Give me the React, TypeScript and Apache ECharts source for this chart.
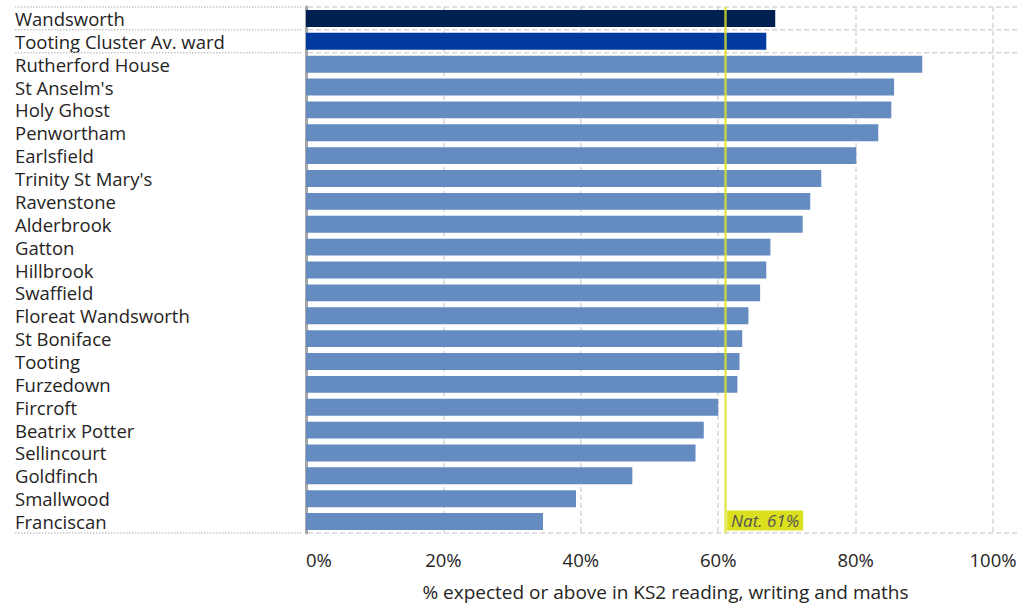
import React, { useEffect, useRef } from "react";
import * as echarts from "echarts";

const categories = [
  "Wandsworth",
  "Tooting Cluster Av. ward",
  "Rutherford House",
  "St Anselm's",
  "Holy Ghost",
  "Penwortham",
  "Earlsfield",
  "Trinity St Mary's",
  "Ravenstone",
  "Alderbrook",
  "Gatton",
  "Hillbrook",
  "Swaffield",
  "Floreat Wandsworth",
  "St Boniface",
  "Tooting",
  "Furzedown",
  "Fircroft",
  "Beatrix Potter",
  "Sellincourt",
  "Goldfinch",
  "Smallwood",
  "Franciscan",
];

const values = [
  68.3, 67.0, 89.7, 85.6, 85.2, 83.3, 80.1, 75.0, 73.4, 72.3, 67.6, 67.0, 66.1,
  64.4, 63.5, 63.1, 62.8, 60.0, 57.9, 56.7, 47.5, 39.3, 34.5,
];

const natValue = 61;
const natLabel = "Nat. 61%";
const axisTitle = "% expected or above in KS2 reading, writing and maths";

const barColors = ["#002052", "#003a9e"];
const defaultBarColor = "#648cc0";
const FONT = "'Open Sans', 'Noto Sans', sans-serif";

export default function App() {
  const ref = useRef<HTMLDivElement>(null);

  useEffect(() => {
    document.body.style.margin = "0";
    if (!ref.current) return;
    const chart = echarts.init(ref.current, undefined, { renderer: "svg" });

    chart.setOption({
      animation: false,
      textStyle: { fontFamily: FONT },
      grid: { left: 306, right: 27, top: 7, bottom: 73, containLabel: false },
      xAxis: {
        type: "value",
        min: 0,
        max: 100,
        interval: 20,
        axisLine: { show: false },
        axisTick: { show: false },
        axisLabel: {
          formatter: "{value}%",
          fontSize: 18.5,
          color: "#252423",
          margin: 17,
          fontFamily: FONT,
          alignMinLabel: "left",
        },
        splitLine: {
          show: true,
          lineStyle: { color: "#d6d6d6", width: 1.5, type: [5, 3] },
        },
        name: axisTitle,
        nameLocation: "middle",
        nameGap: 49,
        nameTextStyle: {
          fontSize: 19,
          color: "#252423",
          fontFamily: FONT,
          padding: [0, 0, 0, 32],
        },
      },
      yAxis: {
        type: "category",
        data: categories,
        inverse: true,
        axisTick: { show: false },
        axisLine: { show: true, lineStyle: { color: "#a6a6a6", width: 3 } },
        axisLabel: {
          interval: 0,
          hideOverlap: false,
          align: "left",
          margin: 291,
          fontSize: 18.5,
          color: "#252423",
          fontFamily: FONT,
        },
        splitLine: { show: false },
      },
      series: [
        {
          type: "bar",
          data: values.map((v, i) => ({
            value: v,
            itemStyle: { color: barColors[i] ?? defaultBarColor },
          })),
          barCategoryGap: "26%",
          markLine: {
            silent: true,
            symbol: "none",
            label: { show: false },
            lineStyle: { color: "rgba(222,226,40,0.8)", width: 2.5, type: "solid" },
            data: [{ xAxis: natValue }],
            z: 10,
          },
          markPoint: {
            silent: true,
            symbol: "rect",
            symbolSize: 0,
            data: [{ coord: [natValue, categories[categories.length - 1]] }],
            label: {
              show: true,
              position: "right",
              distance: 2,
              formatter: natLabel,
              fontStyle: "italic",
              fontSize: 17,
              color: "#555555",
              fontFamily: FONT,
              backgroundColor: "#dadf1e",
              padding: [2, 4, 1, 4],
              offset: [0, -1],
            },
          },
        },
      ],
    });

    // Row separators from axis positions
    const centers = categories.map(
      (c) => chart.convertToPixel({ yAxisIndex: 0 }, c) as number
    );
    const band = centers[1] - centers[0];
    const bounds = [
      centers[0] - band / 2,
      centers[1] - band / 2,
      centers[2] - band / 2,
      centers[centers.length - 1] + band / 2,
    ];
    const x0 = chart.convertToPixel({ xAxisIndex: 0 }, 0) as number;
    const graphics: any[] = [];
    bounds.forEach((y) => {
      graphics.push({
        type: "line",
        shape: { x1: 15, y1: y, x2: x0 - 4, y2: y },
        style: { stroke: "#c8c8c8", lineWidth: 1.5, lineDash: [1.5, 1.5] },
        silent: true,
        z: 5,
      });
      graphics.push({
        type: "line",
        shape: { x1: x0 + 2, y1: y, x2: 1020, y2: y },
        style: { stroke: "#d6d6d6", lineWidth: 1.5, lineDash: [5, 3] },
        silent: true,
        z: 5,
      });
    });
    chart.setOption({ graphic: graphics });

    return () => chart.dispose();
  }, []);

  return <div ref={ref} style={{ width: 1020, height: 606 }} />;
}
